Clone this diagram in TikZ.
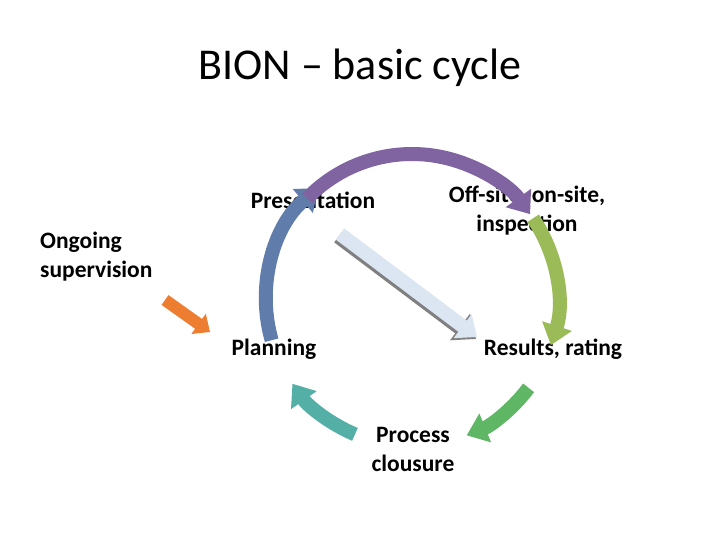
\documentclass[tikz,border=0pt]{standalone}
\usepackage{fontspec}
\setmainfont{Carlito}
\usetikzlibrary{arrows.meta}
\begin{document}
\begin{tikzpicture}[x=1pt,y=1pt,
  lbl/.style={font=\bfseries\fontsize{23.5}{29}\selectfont, align=center, inner sep=0pt},
  arc/.style={line width=14pt, -{Triangle[width=30pt,length=20pt]}}]
\useasboundingbox (0,0) rectangle (720,540);
\node[font=\fontsize{44}{48}\selectfont] (title) at (360,472) {BION -- basic cycle};
\node[lbl] (pres) at (313,340) {Presentation};
\node[lbl] (off) at (527,329) {Off-site, on-site,\\inspection};
\node[lbl, align=left, anchor=west] (ong) at (40,283) {Ongoing\\supervision};
\node[lbl] (plan) at (274,191) {Planning};
\node[lbl] (res) at (553,191) {Results, rating};
\node[lbl] (proc) at (413,91) {Process\\clousure};
\coordinate (c) at (412,240);
\draw[arc, color={rgb,255:red,96;green,124;blue,170}] ([shift={(196:146)}]c) arc[start angle=196, end angle=130, radius=146];
\draw[arc, color={rgb,255:red,128;green,100;blue,162}] ([shift={(136:146)}]c) arc[start angle=136, end angle=36, radius=146];
\draw[arc, color={rgb,255:red,155;green,187;blue,89}] ([shift={(34:146)}]c) arc[start angle=34, end angle=-18, radius=146];
\draw[arc, color={rgb,255:red,95;green,182;blue,100}] ([shift={(-37:146)}]c) arc[start angle=-37, end angle=-68, radius=146];
\draw[arc, color={rgb,255:red,84;green,175;blue,166}] ([shift={(-113:146)}]c) arc[start angle=-113, end angle=-145, radius=146];
\coordinate (d1) at (340,306);
\coordinate (d2) at (477,203);
\draw[line width=16pt, -{Triangle[width=32pt,length=20pt]}, gray] ([shift={(-1,-2)}]d1) -- ([shift={(-1,-2)}]d2);
\draw[line width=14pt, -{Triangle[width=29pt,length=18pt]}, color={rgb,255:red,220;green,230;blue,242}] (d1) -- (d2);
\coordinate (o1) at (165,240);
\coordinate (o2) at (210,208);
\draw[line width=12pt, -{Triangle[width=24pt,length=14pt]}, color={rgb,255:red,237;green,125;blue,49}] (o1) -- (o2);
\end{tikzpicture}
\end{document}
